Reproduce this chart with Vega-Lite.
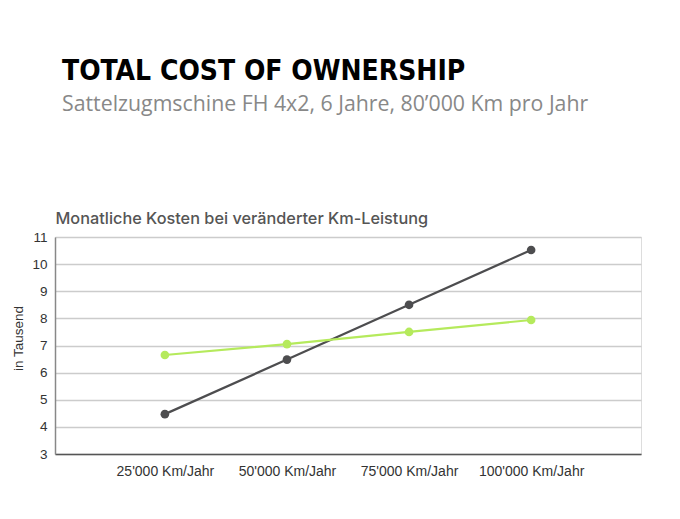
{
  "$schema": "https://vega.github.io/schema/vega-lite/v6.json",
  "width": 586,
  "height": 217,
  "autosize": {"type": "none"},
  "padding": {"left": 55, "top": 237, "right": 39, "bottom": 65},
  "background": "white",
  "title": {
    "text": "TOTAL COST OF OWNERSHIP",
    "subtitle": "Sattelzugmschine FH 4x2, 6 Jahre, 80’000 Km pro Jahr",
    "anchor": "start",
    "frame": "group",
    "dx": 7,
    "font": "DejaVu Sans Condensed",
    "fontWeight": "bold",
    "fontSize": 28,
    "color": "#000000",
    "subtitleFont": "Open Sans",
    "subtitleFontSize": 21.3,
    "subtitleColor": "#888888",
    "subtitlePadding": 8,
    "offset": 95
  },
  "data": {
    "values": [
      {"km": "25'000 Km/Jahr", "series": "Diesel", "value": 4.47},
      {"km": "50'000 Km/Jahr", "series": "Diesel", "value": 6.48},
      {"km": "75'000 Km/Jahr", "series": "Diesel", "value": 8.5},
      {"km": "100'000 Km/Jahr", "series": "Diesel", "value": 10.52},
      {"km": "25'000 Km/Jahr", "series": "Elektro", "value": 6.65},
      {"km": "50'000 Km/Jahr", "series": "Elektro", "value": 7.05},
      {"km": "75'000 Km/Jahr", "series": "Elektro", "value": 7.5},
      {"km": "100'000 Km/Jahr", "series": "Elektro", "value": 7.94}
    ]
  },
  "encoding": {
    "x": {
      "field": "km",
      "type": "ordinal",
      "sort": ["25'000 Km/Jahr", "50'000 Km/Jahr", "75'000 Km/Jahr", "100'000 Km/Jahr"],
      "scale": {"type": "point", "padding": 0.9}
    },
    "y": {
      "field": "value",
      "type": "quantitative",
      "scale": {"domain": [3, 11], "nice": false, "zero": false},
      "axis": {
        "title": "in Tausend",
        "titleFont": "Liberation Sans",
        "titleFontSize": 13.5,
        "titleFontWeight": "normal",
        "titleColor": "#333333",
        "titlePadding": 6,
        "titleY": 101,
        "values": [3, 4, 5, 6, 7, 8, 9, 10, 11],
        "labelFont": "Liberation Sans",
        "labelFontSize": 13.5,
        "labelColor": "#333333",
        "labelPadding": 8,
        "ticks": false,
        "domain": true,
        "domainColor": "#888888",
        "domainWidth": 1.5,
        "grid": true,
        "gridColor": "#cccccc",
        "gridWidth": 1.5
      }
    },
    "color": {
      "field": "series",
      "type": "nominal",
      "scale": {"domain": ["Diesel", "Elektro"], "range": ["#4d4d4f", "#b5ea5c"]},
      "legend": null
    }
  },
  "layer": [
    {
      "mark": {"type": "line", "strokeWidth": 2.2},
      "encoding": {
        "x": {
          "field": "km",
          "type": "ordinal",
          "sort": ["25'000 Km/Jahr", "50'000 Km/Jahr", "75'000 Km/Jahr", "100'000 Km/Jahr"],
          "scale": {"type": "point", "padding": 0.9},
          "axis": {
            "title": null,
            "labelAngle": 0,
            "labelFont": "Liberation Sans",
            "labelFontSize": 14,
            "labelColor": "#333333",
            "labelPadding": 10,
            "ticks": false,
            "domainColor": "#555555",
            "domainWidth": 1.5,
            "grid": false
          }
        }
      }
    },
    {
      "mark": {"type": "point", "filled": true, "size": 75, "opacity": 1},
      "encoding": {
        "x": {
          "field": "km",
          "type": "ordinal",
          "sort": ["25'000 Km/Jahr", "50'000 Km/Jahr", "75'000 Km/Jahr", "100'000 Km/Jahr"],
          "scale": {"type": "point", "padding": 0.9},
          "axis": {
            "orient": "top",
            "title": "Monatliche Kosten bei veränderter Km-Leistung",
            "titleAnchor": "start",
            "titleAlign": "left",
            "titleFont": "Inter",
            "titleFontSize": 16.3,
            "titleFontWeight": 500,
            "titleColor": "#555555",
            "titlePadding": 11,
            "labels": false,
            "ticks": false,
            "domain": false,
            "grid": false
          }
        }
      }
    }
  ],
  "resolve": {"axis": {"x": "independent"}}
}
